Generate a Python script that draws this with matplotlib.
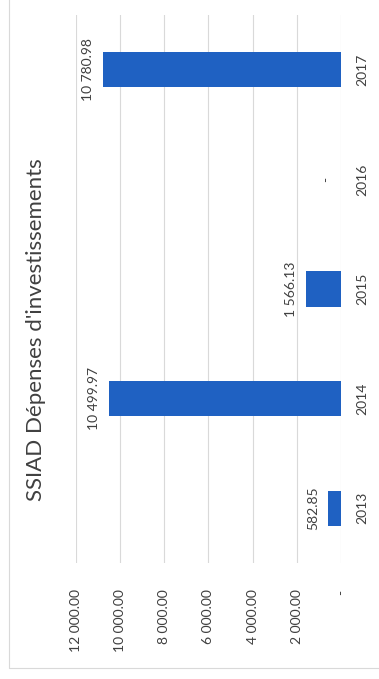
import matplotlib
matplotlib.use("Agg")
import matplotlib.pyplot as plt
from matplotlib.patches import Rectangle

plt.rcParams["font.family"] = ["Lato", "DejaVu Sans"]

years = ["2013", "2014", "2015", "2016", "2017"]
depenses = [582.85, 10499.97, 1566.13, 0.0, 10780.98]
value_ticks = [0, 2000, 4000, 6000, 8000, 10000, 12000]
title = "SSIAD Dépenses d'investissements"

bar_color = "#1f61c2"
grid_color = "#d9d9d9"
text_color = "#404040"


def fmt_amount(v: float) -> str:
    # French-style thousands separator, dash for zero
    if v == 0:
        return "-"
    return f"{v:,.2f}".replace(",", " ")


fig = plt.figure(figsize=(3.79, 6.79), dpi=100)
ax = fig.add_axes([76 / 379, 116 / 679, 265 / 379, 548 / 679])

pos = list(range(len(years)))
ax.barh(pos, depenses, height=0.32, color=bar_color, linewidth=0, zorder=3)

ax.set_xlim(12000, 0)
ax.set_ylim(-0.5, len(years) - 0.5)

ax.set_xticks(value_ticks)
ax.set_xticklabels([fmt_amount(v) for v in value_ticks], rotation=90,
                   va="top", ha="center", fontsize=10, color=text_color)
ax.tick_params(axis="x", length=0, pad=19)

ax.yaxis.tick_right()
ax.set_yticks(pos)
ax.set_yticklabels(years, rotation=90, va="center", ha="left",
                   fontsize=10, color=text_color)
ax.tick_params(axis="y", length=0, pad=11)

ax.grid(axis="x", color=grid_color, linewidth=0.8, zorder=0)
for s in ax.spines.values():
    s.set_visible(False)

# value labels next to the end of each bar
for p, v in zip(pos, depenses):
    ax.annotate(fmt_amount(v), xy=(v, p), xytext=(-9, 0),
                textcoords="offset pixels", rotation=90,
                ha="right", va="center", fontsize=10, color=text_color)

fig.text(36 / 379, 0.514, title, rotation=90, ha="center", va="center",
         fontsize=16, color=text_color)

# light chart frame
fig.add_artist(Rectangle((8.5 / 379, 11 / 679), 1.2, 1.2,
                         transform=fig.transFigure, fill=False,
                         edgecolor=grid_color, linewidth=0.8))

fig.savefig("out.png", dpi=100, facecolor="white")
plt.close(fig)
